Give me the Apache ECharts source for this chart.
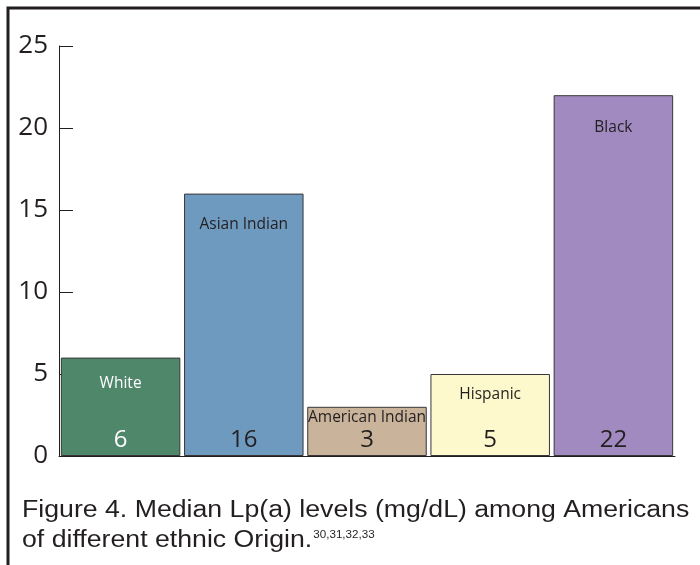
<!DOCTYPE html>
<html>
<head>
<meta charset="utf-8">
<script src="https://cdn.jsdelivr.net/npm/echarts@6/dist/echarts.min.js"></script>
<style>
  html, body { margin: 0; padding: 0; background: #fff; }
  #chart { width: 700px; height: 565px; }
</style>
</head>
<body>
<div id="chart"></div>
<script>
// Median Lp(a) levels (mg/dL) by ethnic origin
const categories = ['White', 'Asian Indian', 'American Indian', 'Hispanic', 'Black'];
const medianLpa = [6, 16, 3, 5, 22];
const yTicks = [0, 5, 10, 15, 20, 25];

// Presentation per bar
const barColors = ['#4e8769', '#6f9abf', '#c9b39b', '#fef9cc', '#a08abf'];
const labelColors = ['#ffffff', '#231f20', '#231f20', '#231f20', '#231f20'];
const nameOffsets = [18, 23, 3, 13, 24];

const INK = '#231f20';
const LABEL_FONT = '"Open Sans", "DejaVu Sans", sans-serif';
const CAPTION_FONT = '"Liberation Sans", Arial, sans-serif';

const chart = echarts.init(document.getElementById('chart'), null, { renderer: 'canvas' });

const barData = medianLpa.map((v, i) => ({
  value: v,
  itemStyle: { color: barColors[i], borderColor: '#3a3638', borderWidth: 1 },
  label: { color: labelColors[i] }
}));

const nameData = medianLpa.map((v, i) => ({
  value: v,
  label: { color: labelColors[i], distance: nameOffsets[i] }
}));

chart.setOption({
  animation: false,
  backgroundColor: '#ffffff',
  grid: { left: 59, right: 25, top: 46, bottom: 109, containLabel: false },
  xAxis: {
    type: 'category',
    data: categories,
    axisLine: { lineStyle: { color: INK, width: 1 } },
    axisTick: { show: false },
    axisLabel: { show: false }
  },
  yAxis: {
    type: 'value',
    min: yTicks[0],
    max: yTicks[yTicks.length - 1],
    interval: yTicks[1] - yTicks[0],
    splitLine: { show: false },
    axisLine: { show: true, lineStyle: { color: INK, width: 1 } },
    axisTick: { show: true, inside: true, length: 14, lineStyle: { color: INK, width: 1 } },
    axisLabel: {
      color: INK,
      fontFamily: LABEL_FONT,
      fontSize: 26,
      margin: 11,
      verticalAlign: 'middle'
    }
  },
  series: [
    {
      type: 'bar',
      data: barData,
      barCategoryGap: '3%',
      barGap: '-100%',
      label: {
        show: true,
        position: 'insideBottom',
        distance: 4,
        fontFamily: LABEL_FONT,
        fontSize: 24,
        formatter: p => String(p.value)
      }
    },
    {
      type: 'bar',
      data: nameData,
      barCategoryGap: '3%',
      barGap: '-100%',
      itemStyle: { color: 'rgba(0,0,0,0)', borderWidth: 0 },
      label: {
        show: true,
        position: 'insideTop',
        fontFamily: LABEL_FONT,
        fontSize: 15.5,
        formatter: p => categories[p.dataIndex]
      },
      z: 3
    }
  ],
  graphic: [
    {
      type: 'rect',
      shape: { x: 8, y: 8, width: 760, height: 620 },
      style: { fill: 'none', stroke: '#231f20', lineWidth: 3 },
      silent: true
    },
    {
      type: 'text',
      x: 22,
      y: 496,
      scaleX: 1.16,
      silent: true,
      style: {
        text: '{c|Figure 4. Median Lp(a) levels (mg/dL) among Americans}\n{c|of different ethnic Origin.}{s|30,31,32,33}',
        fill: INK,
        rich: {
          c: { fontFamily: CAPTION_FONT, fontSize: 23, lineHeight: 30, fill: INK },
          s: { fontFamily: CAPTION_FONT, fontSize: 10, lineHeight: 30, fill: INK, verticalAlign: 'top', padding: [4, 0, 0, 1] }
        }
      }
    }
  ]
});
</script>
</body>
</html>
